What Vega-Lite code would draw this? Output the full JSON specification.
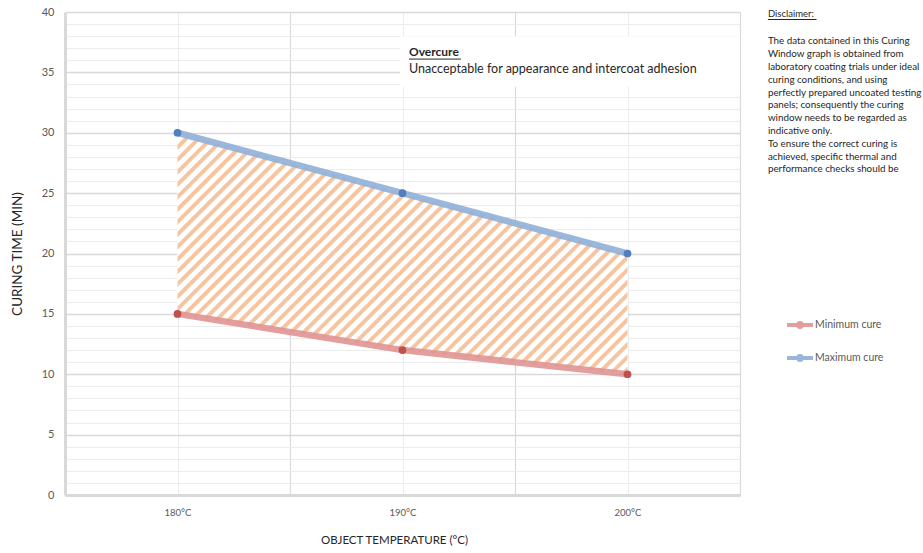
{
  "$schema": "https://vega.github.io/schema/vega-lite/v6.json",
  "width": 675,
  "height": 483,
  "autosize": {"type": "none"},
  "padding": {"left": 65, "top": 12, "right": 183, "bottom": 58},
  "background": "#ffffff",
  "datasets": {
    "cure": [
      {"temp": 180, "Minimum cure": 15, "Maximum cure": 30},
      {"temp": 190, "Minimum cure": 12, "Maximum cure": 25},
      {"temp": 200, "Minimum cure": 10, "Maximum cure": 20}
    ],
    "box": [
      {"temp": 189.9, "temp2": 205, "time": 38, "time2": 33.8}
    ],
    "underlines": [
      {"temp": 190.29, "temp2": 192.6, "time": 36.1},
      {"temp": 206.24, "temp2": 208.4, "time": 39.38}
    ]
  },
  "layer": [
    {
      "data": {"name": "box"},
      "mark": {"type": "rect", "fill": "#ffffff"},
      "encoding": {
        "x": {
          "field": "temp", "type": "quantitative",
          "scale": {"domain": [175, 205], "nice": false, "zero": false},
          "axis": {"orient": "bottom", "values": [185, 195, 205], "grid": true, "gridColor": "#d9d9d9", "gridWidth": 1.2, "labels": false, "ticks": false, "domain": false, "title": null}
        },
        "x2": {"field": "temp2"},
        "y": {
          "field": "time", "type": "quantitative",
          "scale": {"domain": [0, 40], "nice": false},
          "axis": {"orient": "left", "values": [1, 2, 3, 4, 6, 7, 8, 9, 11, 12, 13, 14, 16, 17, 18, 19, 21, 22, 23, 24, 26, 27, 28, 29, 31, 32, 33, 34, 36, 37, 38, 39], "grid": true, "gridColor": "#ececec", "gridWidth": 1, "labels": false, "ticks": false, "domain": false, "title": null}
        },
        "y2": {"field": "time2"}
      }
    },
    {
      "layer": [
        {
          "data": {"name": "cure"},
          "mark": {
            "type": "area",
            "fill": {
              "gradient": "linear", "x1": 0, "y1": 0, "x2": 1.193, "y2": 0.64,
              "stops": [
                {"offset": 0, "color": "#f7c4a0"}, {"offset": 0.006, "color": "#f7c4a0"}, {"offset": 0.008, "color": "#fff"}, {"offset": 0.016, "color": "#fff"},
                {"offset": 0.018, "color": "#f7c4a0"}, {"offset": 0.024, "color": "#f7c4a0"}, {"offset": 0.026, "color": "#fff"}, {"offset": 0.034, "color": "#fff"},
                {"offset": 0.036, "color": "#f7c4a0"}, {"offset": 0.042, "color": "#f7c4a0"}, {"offset": 0.044, "color": "#fff"}, {"offset": 0.052, "color": "#fff"},
                {"offset": 0.054, "color": "#f7c4a0"}, {"offset": 0.06, "color": "#f7c4a0"}, {"offset": 0.062, "color": "#fff"}, {"offset": 0.07, "color": "#fff"},
                {"offset": 0.072, "color": "#f7c4a0"}, {"offset": 0.078, "color": "#f7c4a0"}, {"offset": 0.08, "color": "#fff"}, {"offset": 0.088, "color": "#fff"},
                {"offset": 0.09, "color": "#f7c4a0"}, {"offset": 0.096, "color": "#f7c4a0"}, {"offset": 0.098, "color": "#fff"}, {"offset": 0.106, "color": "#fff"},
                {"offset": 0.108, "color": "#f7c4a0"}, {"offset": 0.114, "color": "#f7c4a0"}, {"offset": 0.116, "color": "#fff"}, {"offset": 0.124, "color": "#fff"},
                {"offset": 0.126, "color": "#f7c4a0"}, {"offset": 0.132, "color": "#f7c4a0"}, {"offset": 0.134, "color": "#fff"}, {"offset": 0.142, "color": "#fff"},
                {"offset": 0.144, "color": "#f7c4a0"}, {"offset": 0.15, "color": "#f7c4a0"}, {"offset": 0.152, "color": "#fff"}, {"offset": 0.16, "color": "#fff"},
                {"offset": 0.162, "color": "#f7c4a0"}, {"offset": 0.168, "color": "#f7c4a0"}, {"offset": 0.17, "color": "#fff"}, {"offset": 0.178, "color": "#fff"},
                {"offset": 0.18, "color": "#f7c4a0"}, {"offset": 0.186, "color": "#f7c4a0"}, {"offset": 0.188, "color": "#fff"}, {"offset": 0.196, "color": "#fff"},
                {"offset": 0.198, "color": "#f7c4a0"}, {"offset": 0.204, "color": "#f7c4a0"}, {"offset": 0.206, "color": "#fff"}, {"offset": 0.214, "color": "#fff"},
                {"offset": 0.216, "color": "#f7c4a0"}, {"offset": 0.222, "color": "#f7c4a0"}, {"offset": 0.224, "color": "#fff"}, {"offset": 0.232, "color": "#fff"},
                {"offset": 0.234, "color": "#f7c4a0"}, {"offset": 0.24, "color": "#f7c4a0"}, {"offset": 0.242, "color": "#fff"}, {"offset": 0.25, "color": "#fff"},
                {"offset": 0.252, "color": "#f7c4a0"}, {"offset": 0.258, "color": "#f7c4a0"}, {"offset": 0.26, "color": "#fff"}, {"offset": 0.268, "color": "#fff"},
                {"offset": 0.27, "color": "#f7c4a0"}, {"offset": 0.276, "color": "#f7c4a0"}, {"offset": 0.278, "color": "#fff"}, {"offset": 0.286, "color": "#fff"},
                {"offset": 0.288, "color": "#f7c4a0"}, {"offset": 0.294, "color": "#f7c4a0"}, {"offset": 0.296, "color": "#fff"}, {"offset": 0.304, "color": "#fff"},
                {"offset": 0.306, "color": "#f7c4a0"}, {"offset": 0.312, "color": "#f7c4a0"}, {"offset": 0.314, "color": "#fff"}, {"offset": 0.322, "color": "#fff"},
                {"offset": 0.324, "color": "#f7c4a0"}, {"offset": 0.33, "color": "#f7c4a0"}, {"offset": 0.332, "color": "#fff"}, {"offset": 0.34, "color": "#fff"},
                {"offset": 0.342, "color": "#f7c4a0"}, {"offset": 0.348, "color": "#f7c4a0"}, {"offset": 0.35, "color": "#fff"}, {"offset": 0.358, "color": "#fff"},
                {"offset": 0.36, "color": "#f7c4a0"}, {"offset": 0.366, "color": "#f7c4a0"}, {"offset": 0.368, "color": "#fff"}, {"offset": 0.376, "color": "#fff"},
                {"offset": 0.378, "color": "#f7c4a0"}, {"offset": 0.384, "color": "#f7c4a0"}, {"offset": 0.386, "color": "#fff"}, {"offset": 0.394, "color": "#fff"},
                {"offset": 0.396, "color": "#f7c4a0"}, {"offset": 0.402, "color": "#f7c4a0"}, {"offset": 0.404, "color": "#fff"}, {"offset": 0.412, "color": "#fff"},
                {"offset": 0.414, "color": "#f7c4a0"}, {"offset": 0.42, "color": "#f7c4a0"}, {"offset": 0.422, "color": "#fff"}, {"offset": 0.43, "color": "#fff"},
                {"offset": 0.432, "color": "#f7c4a0"}, {"offset": 0.438, "color": "#f7c4a0"}, {"offset": 0.44, "color": "#fff"}, {"offset": 0.448, "color": "#fff"},
                {"offset": 0.45, "color": "#f7c4a0"}, {"offset": 0.456, "color": "#f7c4a0"}, {"offset": 0.458, "color": "#fff"}, {"offset": 0.466, "color": "#fff"},
                {"offset": 0.468, "color": "#f7c4a0"}, {"offset": 0.474, "color": "#f7c4a0"}, {"offset": 0.476, "color": "#fff"}, {"offset": 0.484, "color": "#fff"},
                {"offset": 0.486, "color": "#f7c4a0"}, {"offset": 0.492, "color": "#f7c4a0"}, {"offset": 0.494, "color": "#fff"}, {"offset": 0.502, "color": "#fff"},
                {"offset": 0.504, "color": "#f7c4a0"}, {"offset": 0.51, "color": "#f7c4a0"}, {"offset": 0.512, "color": "#fff"}, {"offset": 0.52, "color": "#fff"},
                {"offset": 0.522, "color": "#f7c4a0"}, {"offset": 0.528, "color": "#f7c4a0"}, {"offset": 0.53, "color": "#fff"}, {"offset": 0.538, "color": "#fff"},
                {"offset": 0.54, "color": "#f7c4a0"}, {"offset": 0.546, "color": "#f7c4a0"}, {"offset": 0.548, "color": "#fff"}, {"offset": 0.556, "color": "#fff"},
                {"offset": 0.558, "color": "#f7c4a0"}, {"offset": 0.564, "color": "#f7c4a0"}, {"offset": 0.566, "color": "#fff"}, {"offset": 0.574, "color": "#fff"},
                {"offset": 0.576, "color": "#f7c4a0"}, {"offset": 0.582, "color": "#f7c4a0"}, {"offset": 0.584, "color": "#fff"}, {"offset": 0.592, "color": "#fff"},
                {"offset": 0.594, "color": "#f7c4a0"}, {"offset": 0.6, "color": "#f7c4a0"}, {"offset": 0.602, "color": "#fff"}, {"offset": 0.61, "color": "#fff"},
                {"offset": 0.612, "color": "#f7c4a0"}, {"offset": 0.618, "color": "#f7c4a0"}, {"offset": 0.62, "color": "#fff"}, {"offset": 0.628, "color": "#fff"},
                {"offset": 0.63, "color": "#f7c4a0"}, {"offset": 0.636, "color": "#f7c4a0"}, {"offset": 0.638, "color": "#fff"}, {"offset": 0.646, "color": "#fff"},
                {"offset": 0.648, "color": "#f7c4a0"}, {"offset": 0.654, "color": "#f7c4a0"}, {"offset": 0.656, "color": "#fff"}, {"offset": 0.664, "color": "#fff"},
                {"offset": 0.666, "color": "#f7c4a0"}, {"offset": 0.672, "color": "#f7c4a0"}, {"offset": 0.674, "color": "#fff"}, {"offset": 0.682, "color": "#fff"},
                {"offset": 0.684, "color": "#f7c4a0"}, {"offset": 0.69, "color": "#f7c4a0"}, {"offset": 0.692, "color": "#fff"}, {"offset": 0.7, "color": "#fff"},
                {"offset": 0.702, "color": "#f7c4a0"}, {"offset": 0.708, "color": "#f7c4a0"}, {"offset": 0.71, "color": "#fff"}, {"offset": 0.718, "color": "#fff"},
                {"offset": 0.72, "color": "#f7c4a0"}, {"offset": 0.726, "color": "#f7c4a0"}, {"offset": 0.728, "color": "#fff"}, {"offset": 0.736, "color": "#fff"},
                {"offset": 0.738, "color": "#f7c4a0"}, {"offset": 0.744, "color": "#f7c4a0"}, {"offset": 0.746, "color": "#fff"}, {"offset": 0.754, "color": "#fff"},
                {"offset": 0.756, "color": "#f7c4a0"}, {"offset": 0.762, "color": "#f7c4a0"}, {"offset": 0.764, "color": "#fff"}, {"offset": 0.772, "color": "#fff"},
                {"offset": 0.774, "color": "#f7c4a0"}, {"offset": 0.78, "color": "#f7c4a0"}, {"offset": 0.782, "color": "#fff"}, {"offset": 0.79, "color": "#fff"},
                {"offset": 0.792, "color": "#f7c4a0"}, {"offset": 0.798, "color": "#f7c4a0"}, {"offset": 0.8, "color": "#fff"}, {"offset": 0.808, "color": "#fff"},
                {"offset": 0.81, "color": "#f7c4a0"}, {"offset": 0.816, "color": "#f7c4a0"}, {"offset": 0.818, "color": "#fff"}, {"offset": 0.826, "color": "#fff"},
                {"offset": 0.828, "color": "#f7c4a0"}, {"offset": 0.834, "color": "#f7c4a0"}, {"offset": 0.836, "color": "#fff"}, {"offset": 0.844, "color": "#fff"},
                {"offset": 0.846, "color": "#f7c4a0"}, {"offset": 0.852, "color": "#f7c4a0"}, {"offset": 0.854, "color": "#fff"}, {"offset": 0.862, "color": "#fff"},
                {"offset": 0.864, "color": "#f7c4a0"}, {"offset": 0.87, "color": "#f7c4a0"}, {"offset": 0.872, "color": "#fff"}, {"offset": 0.88, "color": "#fff"},
                {"offset": 0.882, "color": "#f7c4a0"}, {"offset": 0.888, "color": "#f7c4a0"}, {"offset": 0.89, "color": "#fff"}, {"offset": 0.898, "color": "#fff"},
                {"offset": 0.9, "color": "#f7c4a0"}, {"offset": 0.906, "color": "#f7c4a0"}, {"offset": 0.908, "color": "#fff"}, {"offset": 0.916, "color": "#fff"},
                {"offset": 0.918, "color": "#f7c4a0"}, {"offset": 0.924, "color": "#f7c4a0"}, {"offset": 0.926, "color": "#fff"}, {"offset": 0.934, "color": "#fff"},
                {"offset": 0.936, "color": "#f7c4a0"}, {"offset": 0.942, "color": "#f7c4a0"}, {"offset": 0.944, "color": "#fff"}, {"offset": 0.952, "color": "#fff"},
                {"offset": 0.954, "color": "#f7c4a0"}, {"offset": 0.96, "color": "#f7c4a0"}, {"offset": 0.962, "color": "#fff"}, {"offset": 0.97, "color": "#fff"},
                {"offset": 0.972, "color": "#f7c4a0"}, {"offset": 0.978, "color": "#f7c4a0"}, {"offset": 0.98, "color": "#fff"}, {"offset": 0.988, "color": "#fff"},
                {"offset": 0.99, "color": "#f7c4a0"}, {"offset": 0.996, "color": "#f7c4a0"}, {"offset": 0.998, "color": "#fff"}
              ]
            }
          },
          "encoding": {
            "x": {
              "field": "temp", "type": "quantitative",
              "axis": {
                "orient": "bottom",
                "values": [180, 190, 200],
                "labelExpr": "datum.value + '°C'",
                "grid": true, "gridColor": "#ececec", "gridWidth": 1,
                "ticks": false, "domainColor": "#d9d9d9", "domainWidth": 3,
                "labelPadding": 12, "labelFontSize": 9.5, "labelColor": "#595959",
                "title": "OBJECT TEMPERATURE (°C)", "titleFontSize": 11.5, "titleFontWeight": "normal",
                "titleColor": "#262626", "titlePadding": 18, "titleX": 329, "titleAnchor": "middle"
              }
            },
            "y": {
              "field": "Maximum cure", "type": "quantitative",
              "axis": {
                "orient": "left",
                "values": [0, 5, 10, 15, 20, 25, 30, 35, 40],
                "grid": true, "gridColor": "#d9d9d9", "gridWidth": 1.3,
                "ticks": false, "domainColor": "#d9d9d9", "domainWidth": 3,
                "labelPadding": 11, "labelFontSize": 11, "labelColor": "#595959",
                "title": "CURING TIME (MIN)", "titleFontSize": 13.5, "titleFontWeight": "normal",
                "titleColor": "#262626", "titlePadding": 17
              }
            },
            "y2": {"field": "Minimum cure"}
          }
        },
        {
          "data": {"name": "cure"},
          "transform": [{"fold": ["Minimum cure", "Maximum cure"], "as": ["series", "time"]}],
          "mark": {"type": "line", "strokeWidth": 6.5, "opacity": 0.9},
          "encoding": {
            "x": {"field": "temp", "type": "quantitative"},
            "y": {"field": "time", "type": "quantitative"},
            "color": {
              "field": "series", "type": "nominal",
              "scale": {"domain": ["Minimum cure", "Maximum cure"], "range": ["#e09494", "#8fb0d8"]},
              "legend": {
                "title": null, "orient": "none", "legendX": 724, "legendY": 302,
                "symbolType": "M-1.5,0H1.5M-0.22,0a0.22,0.22 0 1,0 0.44,0a0.22,0.22 0 1,0 -0.44,0",
                "symbolSize": 300, "symbolStrokeWidth": 4,
                "labelOffset": 4, "labelFontSize": 10.5, "labelColor": "#595959",
                "rowPadding": 12
              }
            }
          }
        },
        {
          "data": {"name": "cure"},
          "transform": [{"fold": ["Minimum cure", "Maximum cure"], "as": ["series", "time"]}],
          "mark": {"type": "point", "filled": true, "size": 60, "opacity": 1},
          "encoding": {
            "x": {"field": "temp", "type": "quantitative"},
            "y": {"field": "time", "type": "quantitative"},
            "fill": {
              "field": "series", "type": "nominal",
              "scale": {"domain": ["Minimum cure", "Maximum cure"], "range": ["#c0504d", "#4f7fbd"]},
              "legend": null
            }
          }
        },
        {
          "data": {"values": [{"temp": 190.29, "time": 36.36, "label": "Overcure"}]},
          "mark": {"type": "text", "align": "left", "baseline": "alphabetic", "fontSize": 12, "fontWeight": "bold", "color": "#262626"},
          "encoding": {
            "x": {"field": "temp", "type": "quantitative"},
            "y": {"field": "time", "type": "quantitative"},
            "text": {"field": "label"}
          }
        },
        {
          "data": {"values": [{"temp": 190.29, "time": 34.95, "label": "Unacceptable for appearance and intercoat adhesion"}]},
          "mark": {"type": "text", "align": "left", "baseline": "alphabetic", "fontSize": 12.5, "color": "#262626"},
          "encoding": {
            "x": {"field": "temp", "type": "quantitative"},
            "y": {"field": "time", "type": "quantitative"},
            "text": {"field": "label"}
          }
        },
        {
          "data": {"name": "underlines"},
          "mark": {"type": "rule", "color": "#262626", "strokeWidth": 1},
          "encoding": {
            "x": {"field": "temp", "type": "quantitative"},
            "x2": {"field": "temp2"},
            "y": {"field": "time", "type": "quantitative"}
          }
        },
        {
          "data": {"values": [{"temp": 206.24, "time": 39.59, "label": "Disclaimer:"}]},
          "mark": {"type": "text", "align": "left", "baseline": "alphabetic", "fontSize": 9.5, "color": "#262626"},
          "encoding": {
            "x": {"field": "temp", "type": "quantitative"},
            "y": {"field": "time", "type": "quantitative"},
            "text": {"field": "label"}
          }
        },
        {
          "data": {"values": [{"temp": 206.24, "time": 37.31, "label": "The data contained in this  Curing\nWindow graph is  obtained from\nlaboratory coating trials under ideal\ncuring conditions, and using\nperfectly prepared uncoated testing\npanels;  consequently the curing\nwindow needs to be regarded as\nindicative only.\nTo ensure the correct curing is\nachieved, specific thermal and\nperformance checks should be"}]},
          "mark": {"type": "text", "align": "left", "baseline": "alphabetic", "fontSize": 9.8, "lineHeight": 12.8, "lineBreak": "\n", "color": "#262626"},
          "encoding": {
            "x": {"field": "temp", "type": "quantitative"},
            "y": {"field": "time", "type": "quantitative"},
            "text": {"field": "label"}
          }
        }
      ]
    }
  ],
  "resolve": {"axis": {"x": "independent", "y": "independent"}},
  "config": {
    "font": "Lato",
    "view": {"stroke": null}
  }
}
